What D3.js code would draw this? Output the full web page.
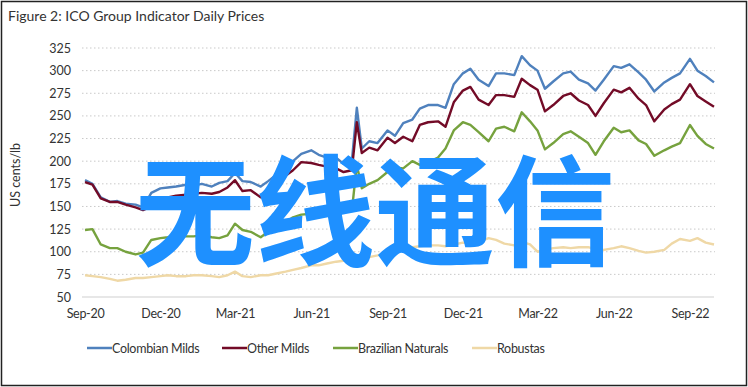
<!DOCTYPE html>
<html>
<head>
<meta charset="utf-8">
<script src="https://cdn.jsdelivr.net/npm/d3@7"></script>
<style>
  body { margin: 0; background: #fff; }
  svg text { font-family: "Liberation Sans Narrow", "Lato", sans-serif; fill: #333; }
  .title { font-family: "Lato", sans-serif; font-size: 14px; }
  .narrow { letter-spacing: -0.3px; }
  .grid line { stroke: #c9c9c9; stroke-dasharray: 1.5,2.5; }
  .watermark { font-family: "Noto Sans CJK SC", sans-serif; font-weight: 700; fill: #1E90FF; }
</style>
</head>
<body>
<svg width="748" height="387"></svg>
<script>
const svg = d3.select('svg')
const width = +svg.attr('width')
const height = +svg.attr('height')

// roughly every 10 days, Sep 2020 - Sep 2022
const dates = [
  '2020-09-01','2020-09-10','2020-09-20','2020-10-01','2020-10-10','2020-10-20',
  '2020-11-01','2020-11-10','2020-11-20','2020-12-01','2020-12-10','2020-12-20',
  '2021-01-01','2021-01-10','2021-01-20','2021-02-01','2021-02-10','2021-02-20',
  '2021-03-01','2021-03-10','2021-03-20','2021-04-01','2021-04-10','2021-04-20',
  '2021-05-01','2021-05-10','2021-05-20','2021-06-01','2021-06-10','2021-06-20',
  '2021-07-01','2021-07-10','2021-07-20','2021-07-26','2021-08-01','2021-08-10','2021-08-20',
  '2021-09-01','2021-09-10','2021-09-20','2021-10-01','2021-10-10','2021-10-20',
  '2021-11-01','2021-11-10','2021-11-20','2021-12-01','2021-12-10','2021-12-20',
  '2022-01-01','2022-01-10','2022-01-20','2022-02-01','2022-02-10','2022-02-20',
  '2022-03-01','2022-03-10','2022-03-20','2022-04-01','2022-04-10','2022-04-20',
  '2022-05-01','2022-05-10','2022-05-20','2022-06-01','2022-06-10','2022-06-20',
  '2022-07-01','2022-07-10','2022-07-20','2022-08-01','2022-08-10','2022-08-20',
  '2022-09-01','2022-09-10','2022-09-20','2022-09-30'
]

const colombianMilds = [
  179,175,160,155,156,153, 152,149,165,170,171,172,
  174,173,175,172,176,178, 187,178,177,172,178,185,
  194,200,208,212,207,204, 204,197,200,259,214,222,220,
  234,228,242,246,258,262, 262,259,285,297,302,290,
  283,297,297,295,316,306, 300,280,288,297,299,290,
  286,278,290,305,303,307, 298,290,277,287,292,297,
  313,300,294,287
]
const otherMilds = [
  177,174,159,155,155,152, 149,146,150,156,160,162,
  163,164,165,164,166,171, 179,167,168,160,165,176,
  184,190,199,198,196,194, 192,188,190,243,209,215,212,
  226,220,227,222,240,243, 244,238,265,278,282,268,
  262,273,273,271,291,284, 279,255,262,272,275,267,
  262,250,264,279,276,281, 269,262,244,257,263,268,
  285,272,266,260
]
const brazilianNaturals = [
  124,125,108,104,104,100, 97,99,113,115,116,118,
  117,117,118,116,115,118, 131,124,122,116,122,125,
  132,138,141,142,143,144, 146,147,145,196,170,175,179,
  188,193,192,200,196,199, 204,214,234,243,240,232,
  222,236,238,233,254,244, 234,213,220,230,233,227,
  220,207,222,237,232,234, 223,219,206,212,216,220,
  240,228,219,214
]
const robustas = [
  74,73,72,70,68,69, 71,71,72,73,74,73,
  73,74,74,73,72,74, 78,73,72,74,74,76,
  78,80,82,85,85,87, 89,90,91,92,93,94,96,
  99,101,104,105,106,107, 107,106,108,110,109,111,
  115,113,109,107,111,108, 100,102,104,105,104,105,
  105,103,102,104,106,104, 101,99,100,102,109,114,
  112,115,110,108
]

const seriesNames = ['Colombian Milds', 'Other Milds', 'Brazilian Naturals', 'Robustas']
const seriesValues = [colombianMilds, otherMilds, brazilianNaturals, robustas]
const colors = ['#4F81BD', '#730B27', '#76A23E', '#EFD8A6']

const yTicks = [50, 75, 100, 125, 150, 175, 200, 225, 250, 275, 300, 325]
const xTicks = ['2020-09-01','2020-12-01','2021-03-01','2021-06-01','2021-09-01',
                '2021-12-01','2022-03-01','2022-06-01','2022-09-01']

const parse = d3.timeParse('%Y-%m-%d')

// frame
svg.append('rect')
  .attr('x', 1.5).attr('y', 1.5)
  .attr('width', width - 3).attr('height', height - 3)
  .attr('fill', '#fff')
  .attr('stroke', '#222').attr('stroke-width', 1.5)

svg.append('text')
  .classed('title', true)
  .attr('x', 8).attr('y', 21)
  .text('Figure 2: ICO Group Indicator Daily Prices')

const xScale = d3.scaleTime()
  .domain([parse('2020-09-01'), parse('2022-09-30')])
  .range([85, 714])

const yScale = d3.scaleLinear()
  .domain([50, 325])
  .range([297, 48])

// gridlines
const grid = svg.append('g').classed('grid', true)
grid.selectAll('line')
  .data(yTicks.filter(d => d !== 50))
  .enter().append('line')
    .attr('x1', 82).attr('x2', 715)
    .attr('y1', d => yScale(d)).attr('y2', d => yScale(d))

svg.append('line')
  .attr('x1', 82).attr('x2', 714)
  .attr('y1', yScale(50)).attr('y2', yScale(50))
  .attr('stroke', '#cfcfcf').attr('stroke-width', 1.2)

// y axis labels
const yAxis = d3.axisLeft(yScale).tickValues(yTicks).tickSize(0).tickPadding(0)
svg.append('g')
  .attr('transform', 'translate(71,0)')
  .call(yAxis)
  .call(g => g.select('.domain').remove())
  .selectAll('text')
    .style('font-size', '12.5px')
    .attr('fill', '#333')

// x axis labels
const xAxis = d3.axisBottom(xScale)
  .tickValues(xTicks.map(parse))
  .tickFormat(d3.timeFormat('%b-%y'))
  .tickSize(0).tickPadding(0)
svg.append('g')
  .attr('transform', 'translate(0,309)')
  .call(xAxis)
  .call(g => g.select('.domain').remove())
  .selectAll('text')
    .classed('narrow', true)
    .style('font-size', '12.5px')
    .attr('fill', '#333')

svg.append('text')
  .attr('transform', 'translate(20,175) rotate(-90)')
  .attr('text-anchor', 'middle')
  .style('font-size', '12.5px')
  .text('US cents/lb')

// lines
const line = d3.line()
  .x((d, i) => xScale(parse(dates[i])))
  .y(d => yScale(d))

seriesValues.forEach((vals, i) => {
  svg.append('path')
    .datum(vals)
    .attr('d', line)
    .attr('fill', 'none')
    .attr('stroke', colors[i])
    .attr('stroke-width', 2.4)
    .attr('stroke-linejoin', 'round')
})

// legend
const legendX = [87, 222, 333, 472]
seriesNames.forEach((name, i) => {
  svg.append('line')
    .attr('x1', legendX[i]).attr('x2', legendX[i] + 25)
    .attr('y1', 348).attr('y2', 348)
    .attr('stroke', colors[i]).attr('stroke-width', 2.5)
  svg.append('text')
    .classed('narrow', true)
    .attr('x', legendX[i] + 25).attr('y', 352.5)
    .style('font-size', '12.5px')
    .text(name)
})

// watermark overlay
svg.append('text')
  .classed('watermark', true)
  .attr('x', 135).attr('y', 257)
  .style('font-size', '120px')
  .text('无线通信')
</script>
</body>
</html>
